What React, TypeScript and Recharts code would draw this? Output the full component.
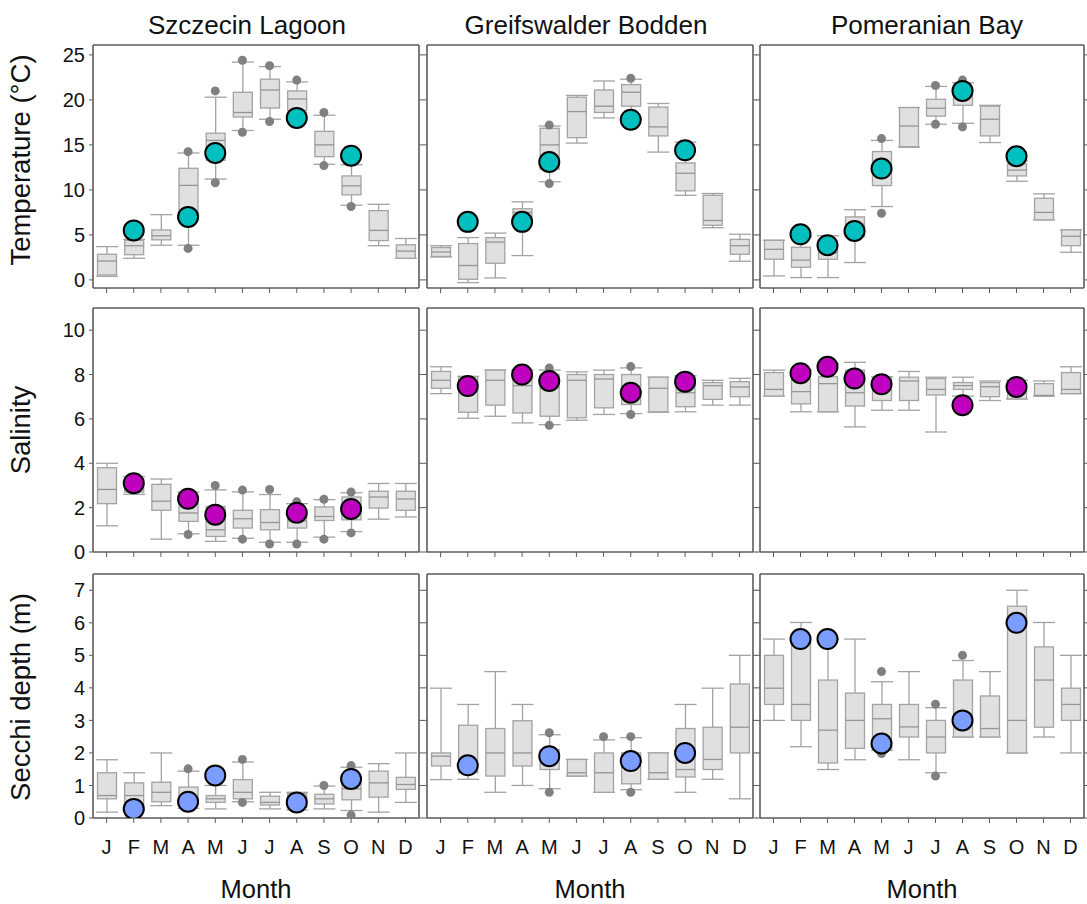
import { ComposedChart, Bar, Scatter, XAxis, YAxis, ReferenceLine } from 'recharts'

// month keys (unique) and the single-letter tick labels
const monthKeys = ['Jan', 'Feb', 'Mar', 'Apr', 'May', 'Jun', 'Jul', 'Aug', 'Sep', 'Oct', 'Nov', 'Dec']
const monthLetters = ['J', 'F', 'M', 'A', 'M', 'J', 'J', 'A', 'S', 'O', 'N', 'D']

const stations = ['Szczecin Lagoon', 'Greifswalder Bodden', 'Pomeranian Bay']
const variables = ['Temperature (°C)', 'Salinity', 'Secchi depth (m)']

const tempTicks = [0, 5, 10, 15, 20, 25]
const salTicks = [0, 2, 4, 6, 8, 10]
const secchiTicks = [0, 1, 2, 3, 4, 5, 6, 7]

// box stats per month: [whisker low, q1, median, q3, whisker high]
// outliers per month: [upper, lower]
// obs: single survey value per month (null = no survey)

// ---- Temperature ----
const szTempBox = [
  [0.4, 0.55, 2.1, 2.85, 3.7], [2.4, 2.8, 3.8, 4.4, 4.5], [3.85, 4.45, 4.9, 5.55, 7.25],
  [3.85, 7.2, 10.5, 12.4, 14.1], [11.2, 13.3, 15.5, 16.3, 20.3], [16.6, 18.1, 18.6, 20.85, 24.2],
  [17.85, 19.1, 21.1, 22.3, 23.7], [18.0, 18.8, 20.1, 21.0, 22.0], [12.85, 13.7, 15.0, 16.5, 18.3],
  [8.3, 9.45, 10.45, 11.55, 12.8], [3.8, 4.37, 5.5, 7.7, 8.4], [2.4, 2.4, 3.2, 3.9, 4.6],
]
const szTempOut = [
  [null, null], [null, null], [null, null], [14.25, 3.5], [21.0, 10.8], [24.4, 16.4],
  [23.8, 17.6], [22.2, null], [18.6, 12.7], [null, 8.15], [null, null], [null, null],
]
const szTempObs = [null, 5.5, null, 7.0, 14.1, null, null, 18.0, null, 13.8, null, null]

const gbTempBox = [
  [2.55, 2.6, 3.1, 3.6, 3.8], [-0.3, 0.07, 1.6, 4.04, 4.7], [0.22, 1.85, 4.2, 4.7, 5.2],
  [2.7, 6.9, 7.5, 7.9, 8.67], [10.9, 12.3, 15.0, 16.85, 17.1], [15.2, 15.8, 18.7, 20.3, 20.5],
  [18.0, 18.6, 19.3, 21.1, 22.1], [18.0, 19.3, 20.85, 21.7, 22.3], [14.2, 16.0, 17.0, 19.2, 19.6],
  [9.4, 9.9, 11.85, 13.0, 15.3], [5.8, 6.07, 6.6, 9.4, 9.6], [2.07, 2.85, 3.8, 4.5, 5.07],
]
const gbTempOut = [
  [null, null], [null, null], [null, null], [null, null], [17.2, 10.7], [null, null],
  [null, null], [22.4, null], [null, null], [null, null], [null, null], [null, null],
]
const gbTempObs = [null, 6.45, null, 6.45, 13.1, null, null, 17.8, null, 14.4, null, null]

const pbTempBox = [
  [0.44, 2.3, 3.4, 4.4, 4.4], [0.26, 1.4, 2.2, 3.63, 4.8], [0.26, 2.3, 3.0, 3.9, 4.9],
  [1.93, 4.8, 6.2, 7.0, 7.8], [8.15, 10.48, 12.8, 14.26, 15.5], [14.74, 14.8, 17.1, 19.15, 19.15],
  [17.3, 18.2, 19.07, 20.07, 21.5], [17.4, 19.4, 20.5, 21.4, 21.9], [15.26, 16.0, 17.85, 19.3, 19.4],
  [10.96, 11.55, 12.2, 12.9, 13.2], [6.67, 6.67, 7.5, 9.07, 9.56], [3.07, 3.8, 4.85, 5.56, 5.56],
]
const pbTempOut = [
  [null, null], [null, null], [null, null], [null, null], [15.7, 7.4], [null, null],
  [21.6, 17.3], [22.2, 17.0], [null, null], [null, null], [null, null], [null, null],
]
const pbTempObs = [null, 5.07, 3.85, 5.44, 12.37, null, null, 21.0, null, 13.74, null, null]

// ---- Salinity ----
const szSalBox = [
  [1.18, 2.18, 2.82, 3.8, 4.0], [2.6, 2.7, 3.0, 3.3, 3.4], [0.58, 1.88, 2.29, 3.05, 3.29],
  [0.82, 1.38, 1.76, 2.2, 2.7], [0.48, 0.7, 1.0, 2.05, 2.8], [0.62, 1.08, 1.5, 1.88, 2.71],
  [0.44, 1.0, 1.33, 1.91, 2.59], [0.44, 1.08, 1.4, 1.9, 2.18], [0.67, 1.42, 1.6, 2.03, 2.36],
  [0.92, 1.45, 1.7, 2.48, 2.67], [1.48, 1.98, 2.48, 2.74, 3.09], [1.58, 1.88, 2.39, 2.74, 3.09],
]
const szSalOut = [
  [null, null], [null, null], [null, null], [null, 0.79], [3.0, null], [2.79, 0.58],
  [2.82, 0.36], [2.26, 0.36], [2.38, 0.58], [2.7, 0.86], [null, null], [null, null],
]
const szSalObs = [null, 3.1, null, 2.4, 1.68, null, null, 1.77, null, 1.94, null, null]

const gbSalBox = [
  [7.14, 7.38, 7.74, 8.14, 8.35], [6.03, 6.3, 7.3, 7.9, 7.92], [6.12, 6.62, 7.74, 8.2, 8.2],
  [5.82, 6.27, 7.5, 8.0, 8.2], [5.74, 6.12, 7.4, 8.0, 8.2], [5.94, 6.05, 7.74, 8.0, 8.12],
  [6.2, 6.5, 7.8, 8.0, 8.2], [6.24, 6.65, 7.5, 8.0, 8.3], [6.3, 6.32, 7.38, 7.88, 7.88],
  [6.32, 6.55, 7.18, 7.9, 7.95], [6.62, 6.88, 7.5, 7.64, 7.74], [6.62, 7.0, 7.44, 7.68, 7.83],
]
const gbSalOut = [
  [null, null], [null, null], [null, null], [null, null], [8.29, 5.71], [null, null],
  [null, null], [8.36, 6.2], [null, null], [null, null], [null, null], [null, null],
]
const gbSalObs = [null, 7.48, null, 8.0, 7.71, null, null, 7.18, null, 7.68, null, null]

const pbSalBox = [
  [7.03, 7.03, 7.33, 8.09, 8.2], [6.32, 6.68, 7.23, 7.8, 8.2], [6.32, 6.32, 7.59, 7.9, 8.5],
  [5.64, 6.58, 7.18, 8.2, 8.55], [6.39, 6.83, 7.3, 7.88, 7.9], [6.39, 6.83, 7.71, 7.88, 8.14],
  [5.41, 7.08, 7.33, 7.82, 7.88], [7.03, 7.33, 7.5, 7.64, 7.88], [6.83, 7.0, 7.45, 7.64, 7.71],
  [6.9, 6.9, 7.2, 7.6, 7.74], [7.03, 7.03, 7.06, 7.59, 7.71], [7.14, 7.14, 7.33, 8.09, 8.35],
]
const pbSalOut = [
  [null, null], [null, null], [null, null], [null, null], [null, null], [null, null],
  [null, null], [null, null], [null, null], [null, null], [null, null], [null, null],
]
const pbSalObs = [null, 8.06, 8.35, 7.82, 7.56, null, null, 6.62, null, 7.44, null, null]

// ---- Secchi depth ----
const szSecBox = [
  [0.18, 0.59, 0.69, 1.39, 1.79], [0.25, 0.35, 0.69, 1.08, 1.39], [0.38, 0.5, 0.79, 1.1, 2.0],
  [0.3, 0.43, 0.6, 0.95, 1.44], [0.28, 0.48, 0.59, 0.69, 1.0], [0.5, 0.59, 0.79, 1.18, 1.72],
  [0.28, 0.4, 0.48, 0.67, 0.79], [0.25, 0.32, 0.5, 0.75, 0.79], [0.28, 0.43, 0.59, 0.73, 0.98],
  [0.23, 0.56, 0.9, 1.1, 1.56], [0.18, 0.64, 1.08, 1.44, 1.67], [0.48, 0.88, 1.03, 1.25, 2.0],
]
const szSecOut = [
  [null, null], [null, null], [null, null], [1.51, null], [null, null], [1.8, 0.48],
  [null, null], [null, null], [1.0, null], [1.61, 0.09], [null, null], [null, null],
]
const szSecObs = [null, 0.28, null, 0.5, 1.31, null, null, 0.48, null, 1.2, null, null]

const gbSecBox = [
  [1.18, 1.6, 1.9, 2.0, 3.99], [1.19, 1.39, 1.7, 2.85, 3.49], [0.79, 1.29, 2.0, 2.75, 4.5],
  [1.0, 1.6, 2.0, 2.99, 3.49], [0.9, 1.49, 1.8, 2.1, 2.56], [1.29, 1.29, 1.39, 1.8, 1.8],
  [0.79, 0.79, 1.39, 2.0, 2.4], [0.87, 1.05, 1.6, 2.0, 2.47], [1.19, 1.19, 1.39, 2.0, 2.0],
  [0.79, 1.26, 1.49, 2.75, 3.49], [1.19, 1.49, 1.8, 2.79, 3.99], [0.59, 2.0, 2.79, 4.12, 5.0],
]
const gbSecOut = [
  [null, null], [null, null], [null, null], [null, null], [2.62, 0.79], [null, null],
  [2.5, null], [2.5, 0.79], [null, null], [null, null], [null, null], [null, null],
]
const gbSecObs = [null, 1.62, null, null, 1.9, null, null, 1.75, null, 2.0, null, null]

const pbSecBox = [
  [3.0, 3.49, 3.99, 5.0, 5.5], [2.19, 3.0, 3.49, 5.4, 6.01], [1.49, 1.69, 2.7, 4.24, 5.5],
  [1.79, 2.14, 3.0, 3.84, 5.5], [2.08, 2.13, 3.05, 3.49, 4.19], [1.79, 2.49, 2.8, 3.49, 4.5],
  [1.39, 2.0, 2.49, 3.0, 3.39], [2.49, 2.49, 3.2, 4.24, 4.84], [2.49, 2.49, 2.75, 3.75, 4.5],
  [2.0, 2.0, 3.0, 6.51, 7.0], [2.49, 2.79, 4.24, 5.26, 6.01], [2.0, 3.0, 3.49, 3.99, 5.0],
]
const pbSecOut = [
  [null, null], [null, null], [null, null], [null, null], [4.5, 1.98], [null, null],
  [3.5, 1.29], [5.0, null], [null, null], [null, null], [null, null], [null, null],
]
const pbSecObs = [null, 5.5, 5.5, null, 2.29, null, null, 3.0, null, 6.0, null, null]

// ---- layout ----
const colLeft = [93, 427, 760]
const colWidth = [326, 326, 324]
const rowTop = [45, 308, 574]
const rowHeight = [243, 244, 244]
const AXIS_W = 45
const FRAME = '#5c5c5c'
const FONT = '"Liberation Sans", Arial, Helvetica, sans-serif'

const BOX_FILL = '#e0e0e0'
const BOX_STROKE = '#a3a3a3'
const OUTLIER = '#808080'

type Row = {
  key: string
  range: [number, number]
  lo: number
  q1: number
  med: number
  q3: number
  hi: number
  outHi: number | null
  outLo: number | null
  obs: number | null
}

const buildRows = (box: number[][], out: (number | null)[][], obs: (number | null)[]): Row[] =>
  monthKeys.map((key, i) => ({
    key,
    range: [box[i][0], box[i][4]],
    lo: box[i][0],
    q1: box[i][1],
    med: box[i][2],
    q3: box[i][3],
    hi: box[i][4],
    outHi: out[i][0],
    outLo: out[i][1],
    obs: obs[i],
  }))

// whole box-and-whisker drawn from the bar spanning [lo, hi]
const BoxShape = (props: any) => {
  const { x, y, width, height, payload } = props
  if (!payload) return <g />
  const { lo, q1, med, q3, hi } = payload as Row
  const top = Math.min(y, y + height)
  const h = Math.abs(height)
  const span = hi - lo || 1
  const py = (v: number) => top + ((hi - v) / span) * h
  const cx = x + width / 2
  const bw = 19
  return (
    <g>
      <line x1={cx} x2={cx} y1={py(hi)} y2={py(q3)} stroke={BOX_STROKE} strokeWidth={1.3} />
      <line x1={cx} x2={cx} y1={py(q1)} y2={py(lo)} stroke={BOX_STROKE} strokeWidth={1.3} />
      <line x1={x} x2={x + width} y1={py(hi)} y2={py(hi)} stroke={BOX_STROKE} strokeWidth={1.3} />
      <line x1={x} x2={x + width} y1={py(lo)} y2={py(lo)} stroke={BOX_STROKE} strokeWidth={1.3} />
      <rect
        x={cx - bw / 2}
        y={py(q3)}
        width={bw}
        height={Math.max(py(q1) - py(q3), 0.5)}
        fill={BOX_FILL}
        stroke={BOX_STROKE}
        strokeWidth={1.3}
      />
      <line x1={cx - bw / 2} x2={cx + bw / 2} y1={py(med)} y2={py(med)} stroke="#959595" strokeWidth={1.3} />
    </g>
  )
}

const dotShape = (field: keyof Row, r: number, fill: string, stroke: string, sw: number) => (p: any) => {
  const v = p.payload ? p.payload[field] : null
  if (v == null || !Number.isFinite(p.cx) || !Number.isFinite(p.cy)) return <g />
  return <circle cx={p.cx} cy={p.cy} r={r} fill={fill} stroke={stroke} strokeWidth={sw} />
}

type PanelProps = {
  rows: Row[]
  col: number
  row: number
  domain: [number, number]
  ticks: number[]
  color: string
}

const Panel = ({ rows, col, row, domain, ticks, color }: PanelProps) => {
  const w = colWidth[col]
  const h = rowHeight[row]
  const bottomH = row === 2 ? 45 : 14
  const showY = col === 0
  const showX = row === 2
  return (
    <div
      style={{
        position: 'absolute',
        left: colLeft[col] - AXIS_W,
        top: rowTop[row] - 4,
      }}
    >
      <ComposedChart
        width={w + AXIS_W * 2}
        height={h + 4 + bottomH}
        data={rows}
        margin={{ top: 4, right: 0, bottom: 0, left: 0 }}
        barCategoryGap={0}
      >
        <XAxis
          dataKey="key"
          height={bottomH}
          interval={0}
          stroke={FRAME}
          axisLine={{ stroke: FRAME, strokeWidth: 1.6 }}
          tickLine={{ stroke: FRAME }}
          tickSize={5}
          tickMargin={17}
          tick={{ fill: '#111', fontSize: 20, fontFamily: FONT }}
          tickFormatter={(_v: any, i: number) => (showX ? monthLetters[i] : '')}
        />
        <YAxis
          yAxisId="left"
          type="number"
          domain={domain}
          ticks={ticks}
          interval={0}
          allowDataOverflow
          width={AXIS_W}
          stroke={FRAME}
          axisLine={{ stroke: FRAME, strokeWidth: 1.6 }}
          tickLine={{ stroke: FRAME }}
          tickSize={4}
          tickMargin={4}
          tick={{ fill: '#111', fontSize: 20, fontFamily: FONT }}
          tickFormatter={(v: number) => (showY ? String(v) : '')}
        />
        <YAxis
          yAxisId="right"
          orientation="right"
          type="number"
          domain={domain}
          ticks={ticks}
          interval={0}
          allowDataOverflow
          width={AXIS_W}
          stroke={FRAME}
          axisLine={{ stroke: FRAME, strokeWidth: 1.6 }}
          tickLine={{ stroke: FRAME }}
          tickSize={4}
          tickFormatter={() => ''}
        />
        <ReferenceLine yAxisId="left" y={domain[1]} stroke={FRAME} strokeWidth={1.6} />
        <Bar yAxisId="left" dataKey="range" barSize={22} shape={BoxShape} isAnimationActive={false} />
        <Scatter yAxisId="left" dataKey="outHi" shape={dotShape('outHi', 4.5, OUTLIER, 'none', 0)} isAnimationActive={false} />
        <Scatter yAxisId="left" dataKey="outLo" shape={dotShape('outLo', 4.5, OUTLIER, 'none', 0)} isAnimationActive={false} />
        <Scatter yAxisId="left" dataKey="obs" shape={dotShape('obs', 10, color, '#000', 2)} isAnimationActive={false} />
      </ComposedChart>
    </div>
  )
}

const TEAL = '#00bfbf'
const MAGENTA = '#bf00bf'
const BLUE = '#7b9dff'

const panels = [
  { rows: buildRows(szTempBox, szTempOut, szTempObs), col: 0, row: 0 },
  { rows: buildRows(gbTempBox, gbTempOut, gbTempObs), col: 1, row: 0 },
  { rows: buildRows(pbTempBox, pbTempOut, pbTempObs), col: 2, row: 0 },
  { rows: buildRows(szSalBox, szSalOut, szSalObs), col: 0, row: 1 },
  { rows: buildRows(gbSalBox, gbSalOut, gbSalObs), col: 1, row: 1 },
  { rows: buildRows(pbSalBox, pbSalOut, pbSalObs), col: 2, row: 1 },
  { rows: buildRows(szSecBox, szSecOut, szSecObs), col: 0, row: 2 },
  { rows: buildRows(gbSecBox, gbSecOut, gbSecObs), col: 1, row: 2 },
  { rows: buildRows(pbSecBox, pbSecOut, pbSecObs), col: 2, row: 2 },
]

const rowDomains: [number, number][] = [[-0.9, 26.1], [0, 11], [0, 7.5]]
const rowTicks = [tempTicks, salTicks, secchiTicks]
const rowColors = [TEAL, MAGENTA, BLUE]

const titleX = [247, 586, 927]
const yLabelY = [160, 430, 697]

export default function App() {
  return (
    <div
      style={{
        position: 'absolute',
        left: 0,
        top: 0,
        width: 1087,
        height: 904,
        background: '#fff',
        fontFamily: FONT,
      }}
    >
      <svg width={1087} height={904} style={{ position: 'absolute', left: 0, top: 0 }}>
        {stations.map((s, i) => (
          <text key={s} x={titleX[i]} y={34} textAnchor="middle" fontSize={26} fill="#111" fontFamily={FONT}>
            {s}
          </text>
        ))}
        {variables.map((v, i) => (
          <text
            key={v}
            transform={`translate(30, ${yLabelY[i]}) rotate(-90)`}
            textAnchor="middle"
            fontSize={27.5}
            fill="#111"
            fontFamily={FONT}
          >
            {v}
          </text>
        ))}
        {colLeft.map((l, i) => (
          <text key={i} x={l + colWidth[i] / 2} y={898} textAnchor="middle" fontSize={25.5} fill="#111" fontFamily={FONT}>
            Month
          </text>
        ))}
      </svg>
      {panels.map((p) => (
        <Panel
          key={`${p.row}-${p.col}`}
          rows={p.rows}
          col={p.col}
          row={p.row}
          domain={rowDomains[p.row]}
          ticks={rowTicks[p.row]}
          color={rowColors[p.row]}
        />
      ))}
    </div>
  )
}
